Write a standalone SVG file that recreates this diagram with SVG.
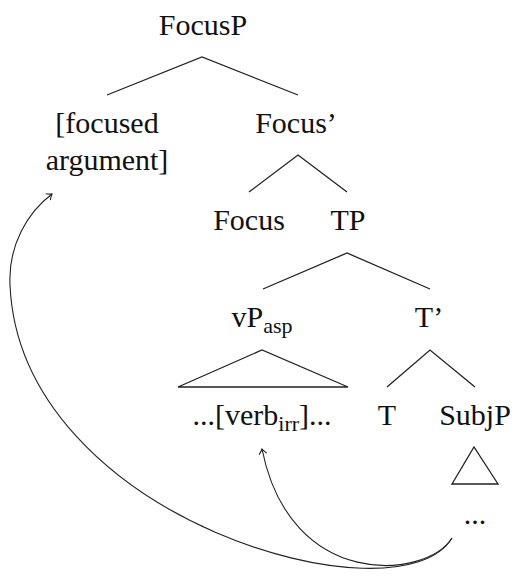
<svg xmlns="http://www.w3.org/2000/svg" width="515" height="579" viewBox="0 0 515 579">
<style>
text{font-family:"Liberation Serif","Times New Roman",serif;font-size:30px;fill:#111;text-anchor:middle}
.sub{font-size:22px}
.edge{stroke:#222;stroke-width:1.3;fill:none}
.move{stroke:#222;stroke-width:1.1;fill:none;marker-end:url(#arr)}
</style>
<defs>
<marker id="arr" viewBox="-6 -5 8 10" markerWidth="8" markerHeight="10" refX="0" refY="0" orient="auto" markerUnits="userSpaceOnUse">
<path d="M-5,-4 Q-2,-1 0,0 Q-2,1 -5,4" fill="none" stroke="#222" stroke-width="1.1"/>
</marker>
</defs>
<g id="FocusP"><text x="203" y="35">FocusP</text></g>
<g id="focused-argument"><text x="107" y="133">[focused</text><text x="107" y="170">argument]</text></g>
<g id="FocusBar"><text x="296" y="133">Focus’</text></g>
<g id="Focus"><text x="249" y="230">Focus</text></g>
<g id="TP"><text x="348" y="230">TP</text></g>
<g id="vPasp"><text x="262" y="327">vP<tspan class="sub" dy="6">asp</tspan></text></g>
<g id="TBar"><text x="429" y="327">T’</text></g>
<g id="verb"><text x="262" y="425">...[verb<tspan class="sub" dy="6">irr</tspan><tspan dy="-6">]...</tspan></text></g>
<g id="T"><text x="387" y="425">T</text></g>
<g id="SubjP"><text x="475" y="425">SubjP</text></g>
<g id="dots"><text x="475" y="524">...</text></g>
<g id="connectors">
<polyline class="edge" points="107,95 202,57 298,95"/>
<polyline class="edge" points="249,192 298,155 347,192"/>
<polyline class="edge" points="263,289 347,253 430,289"/>
<polygon class="edge" points="178,387 262,350 348,387"/>
<polyline class="edge" points="387,387 430,350 475,387"/>
<polygon class="edge" points="452,484 474,447 498,484"/>
<path class="move" d="M452,538 C425,580 290,590 262,449"/>
<path class="move" d="M452,538 C400,625 20,520 10,285 C8,245 28,212 52,194"/>
</g>
</svg>
